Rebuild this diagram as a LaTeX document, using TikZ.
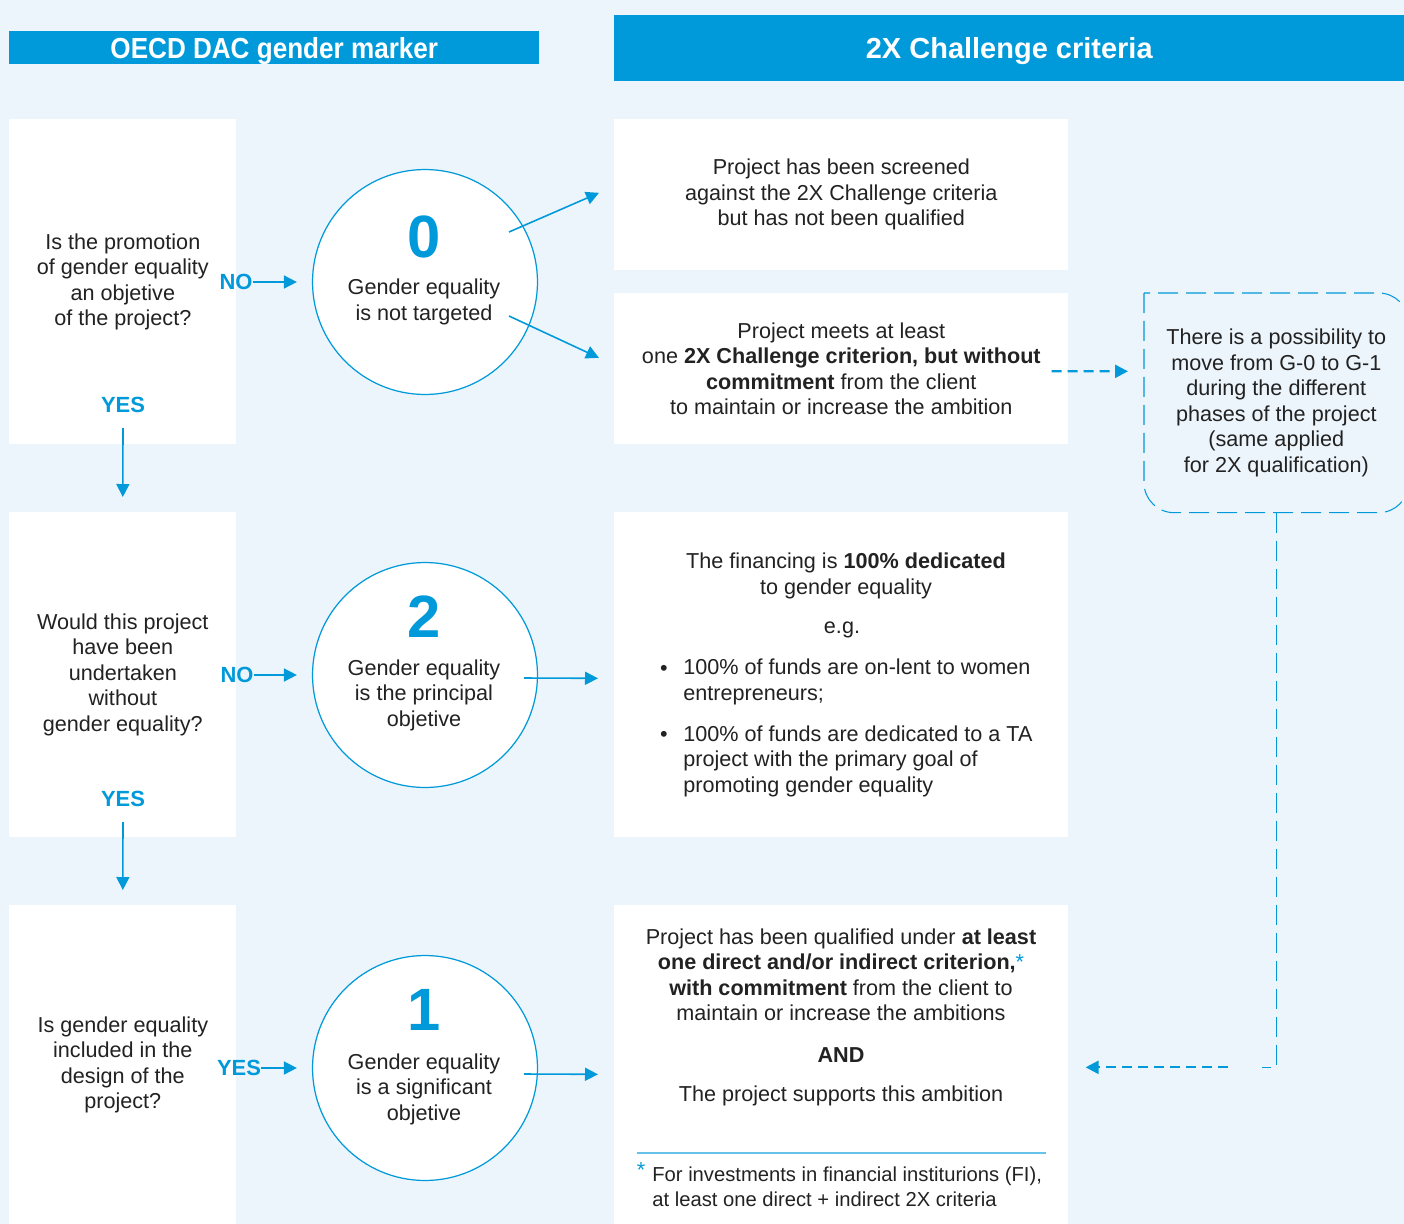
\documentclass[tikz,border=0pt]{standalone}
\usepackage{fontspec}
\setmainfont{Liberation Sans}
\usepackage{graphicx}
\usetikzlibrary{arrows.meta,calc}
\definecolor{pageblue}{HTML}{EDF5FC}
\definecolor{markblue}{HTML}{009ADA}
\definecolor{inkgrey}{HTML}{222222}
\newcommand{\bodyfont}{\fontsize{12.3}{14.5}\selectfont}
\tikzset{headbar/.style={fill=markblue, text=white, font=\fontsize{16.5}{19}\selectfont\bfseries, inner sep=0pt, text depth=0pt, anchor=north west},
  whitebox/.style={fill=white, inner sep=0pt, anchor=north west, text=inkgrey, font=\bodyfont, align=center},
  txt/.style={text=inkgrey, font=\bodyfont, align=center, inner sep=0pt},
  ring/.style={circle, draw=markblue, line width=0.7pt, fill=white, minimum size=4.5cm, inner sep=0pt},
  digit/.style={text=markblue, font=\fontsize{34}{36}\selectfont\bfseries, inner sep=0pt},
  answer/.style={text=markblue, font=\fontsize{12.5}{14}\selectfont\bfseries, inner sep=0pt},
  flow/.style={draw=markblue, line width=0.9pt, -{Triangle[length=0.26cm,width=0.26cm]}},
  hint/.style={draw=markblue, line width=1.3pt, dash pattern=on 0.2cm off 0.12cm, -{Triangle[length=0.26cm,width=0.26cm]}},
  notedash/.style={draw=markblue, line width=0.6pt, dash pattern=on 0.4cm off 0.16cm}}

\begin{document}
\begin{tikzpicture}[x=0.02cm, y=-0.02cm]
   \useasboundingbox (0,0) rectangle (1404,1224);
   \clip (0,0) rectangle (1404,1224);
   \fill[pageblue] (0,0) rectangle (1404,1224);
   % headers
   \node[headbar, minimum width=10.6cm, minimum height=0.66cm] (hl) at (9,31) {\scalebox{0.9}[1]{OECD DAC gender marker}};
   \node[headbar, minimum width=15.8cm, minimum height=1.32cm] (hr) at (614,15) {2X Challenge criteria};
   % questions
   \node[whitebox, minimum width=4.54cm, minimum height=6.5cm] (q1) at (9,119) {Is the promotion\\of gender equality\\an objetive\\of the project?};
   \node[whitebox, minimum width=4.54cm, minimum height=6.5cm] (q2) at (9,512) {Would this project\\have been\\undertaken\\without\\gender equality?};
   \node[whitebox, minimum width=4.54cm, minimum height=6.38cm] (q3) at (9,905) {Is gender equality\\included in the\\design of the\\project?};
   \node[answer] (y1) at (123,405) {YES};
   \node[answer] (y2) at (123,799) {YES};
   \node[answer] (n0) at (236,282) {NO};
   \node[answer] (n2) at (237,675) {NO};
   \node[answer] (y3) at (239,1068) {YES};
   % markers
   \node[ring] (c0) at (425,282) {};
   \node[digit] (d0) at (424,237) {0};
   \node[txt] (l0) at (424,302) {Gender equality\\is not targeted};
   \node[ring] (c2) at (425,675) {};
   \node[digit] (d2) at (424,617) {2};
   \node[txt] (l2) at (424,695) {Gender equality\\is the principal\\objetive};
   \node[ring] (c1) at (425,1068) {};
   \node[digit] (d1) at (424,1010) {1};
   \node[txt] (l1) at (424,1089) {Gender equality\\is a significant\\objetive};
   % 2X criteria
   \node[whitebox, minimum width=9.08cm, minimum height=3.02cm] (bA) at (614,119) {Project has been screened\\against the 2X Challenge criteria\\but has not been qualified};
   \node[whitebox, minimum width=9.08cm, minimum height=3.02cm] (bB) at (614,293) {Project meets at least\\one \textbf{2X Challenge criterion, but without}\\\textbf{commitment} from the client\\to maintain or increase the ambition};
   \node[whitebox, minimum width=9.08cm, minimum height=6.5cm] (bC) at (614,512) {};
   \node[whitebox, minimum width=9.08cm, minimum height=6.38cm] (bD) at (614,905) {};
   \node[txt] (fin) at (846,576) {The financing is \textbf{100\% dedicated}\\to gender equality};
   \node[txt] (eg) at (842,630) {e.g.};
   \node[txt] (dot1) at (664,670) {\textbullet};
   \node[txt, align=left, anchor=west] (it1) at (683,682) {100\% of funds are on-lent to women\\entrepreneurs;};
   \node[txt] (dot2) at (664,736) {\textbullet};
   \node[txt, align=left, anchor=west] (it2) at (683,761) {100\% of funds are dedicated to a TA\\project with the primary goal of\\promoting gender equality};
   \node[txt] (qual) at (841,975) {Project has been qualified under \textbf{at least}\\\textbf{one direct and/or indirect criterion,}\textcolor{markblue}{*}\\\textbf{with commitment} from the client to\\maintain or increase the ambitions};
   \node[txt, font=\bodyfont\bfseries] (and) at (841,1055) {AND};
   \node[txt] (supp) at (841,1096) {The project supports this ambition};
   \draw[markblue!60, line width=0.6pt] (637,1153) -- (1046,1153);
   \node[txt, text=markblue] (star) at (641,1170) {*};
   \node[txt, align=left, anchor=west, font=\fontsize{11.5}{14.5}\selectfont] (foot) at (652,1187) {For investments in financial institurions (FI),\\at least one direct + indirect 2X criteria};
   % note
   \node[txt, minimum width=5.28cm, minimum height=4.38cm, anchor=north west] (note) at (1144,293) {There is a possibility to\\move from G-0 to G-1\\during the different\\phases of the project\\(same applied\\for 2X qualification)};
   \draw[notedash] (note.north west) [rounded corners=0.6cm] -- (note.south west) -- (note.south east) -- (note.north east) -- (note.north west);
   \coordinate (bend) at ($(note.south |- bD.east)+(0,2.5)$);
   % arrows
   \draw[flow] (n0.east) -- ([shift={(-15,0)}]c0.west);
   \draw[flow] (n2.east) -- ([shift={(-15,0)}]c2.west);
   \draw[flow] (y3.east) -- ([shift={(-15,0)}]c1.west);
   \draw[flow] ([shift={(0,15)}]y1.south) -- ([shift={(0,-15)}]q2.north);
   \draw[flow] ([shift={(0,15)}]y2.south) -- ([shift={(0,-15)}]q3.north);
   \draw[flow] ([shift={(84,-50)}]c0.center) -- ([shift={(-15,-2)}]bA.west);
   \draw[flow] ([shift={(84,34)}]c0.center) -- ([shift={(-15,-11)}]bB.west);
   \draw[flow] ([shift={(99,3)}]c2.center) -- ([shift={(-16,3.5)}]bC.west);
   \draw[flow] ([shift={(99,6)}]c1.center) -- ([shift={(-16,9.5)}]bD.west);
   \draw[hint] ([shift={(-17,2.5)}]bB.east) -- ([shift={(-16,-31.5)}]note.west);
   \draw[notedash] (note.south) -- (bend) -- ++(-14,0);
   \draw[hint] ([shift={(-48,0)}]bend) -- ([shift={(17,2.5)}]bD.east);
\end{tikzpicture}
\end{document}
